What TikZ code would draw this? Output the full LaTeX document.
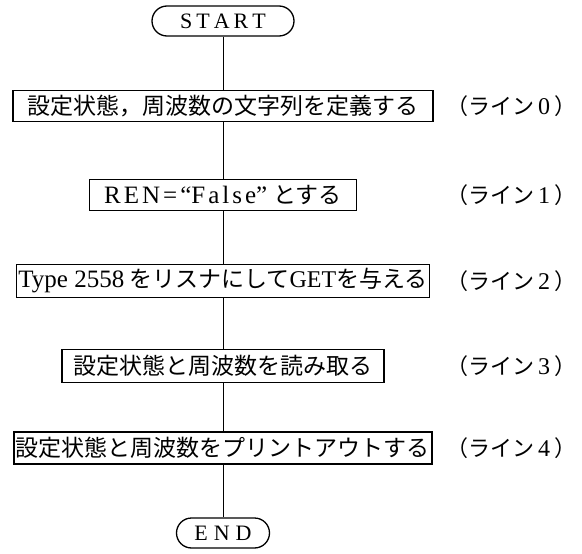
\documentclass[tikz,border=0pt]{standalone}
\usepackage{fontspec}
\setmainfont{Liberation Serif}
\newfontfamily\jp{Noto Sans CJK JP}
\newfontfamily\lat{Liberation Serif}
\newcommand\J[1]{{\fontsize{23}{23}\selectfont\jp #1}}
\newcommand\Dg[1]{{\lat\fontsize{24}{24}\selectfont\,#1\,}}
\newcommand\ls{\kern3pt}
\newcommand\gap[1]{\kern#1pt}
\begin{document}
\begin{tikzpicture}[x=1pt,y=-1pt,
  box/.style={draw,line width=1.3pt,inner sep=0pt,minimum height=31pt,
    font=\lat\fontsize{25}{25}\selectfont},
  term/.style={draw,line width=1.3pt,rounded corners=15pt,minimum height=30pt,
    inner sep=0pt,font=\lat\fontsize{22}{22}\selectfont},
  lab/.style={inner sep=0pt,font=\jp\fontsize{22}{22}\selectfont},
  flow/.style={line width=0.8pt}]
\useasboundingbox (0,0) rectangle (582,554);
\node[term,minimum width=142pt] (start) at (223,21) {S\gap4T\gap4A\gap4R\gap4T};
\node[box,minimum width=420pt] (b0) at (223,106) {\J{設定状態，周波数の文字列を定義する}};
\node[box,minimum width=267pt] (b1) at (223,195) {R\ls E\ls N\ls=\ls“F\ls a\ls l\ls s\ls e” \J{とする}};
\node[box,minimum width=413pt,minimum height=33pt] (b2) at (223,281) {Type 2558\gap5\J{をリスナにして}{\fontsize{24}{24}\selectfont GET}\J{を与える}};
\node[box,minimum width=322pt,minimum height=33pt] (b3) at (223,366) {\J{設定状態と周波数を読み取る}};
\node[box,minimum width=418pt,minimum height=32pt] (b4) at (223,448) {\J{設定状態と周波数をプリントアウトする}};
\node[term,minimum width=93pt] (end) at (223,533) {E\gap6N\gap6D};
\node[lab] (l0) at (511,106) {（ライン\Dg{0}）};
\node[lab] (l1) at (511,195) {（ライン\Dg{1}）};
\node[lab] (l2) at (511,281) {（ライン\Dg{2}）};
\node[lab] (l3) at (511,366) {（ライン\Dg{3}）};
\node[lab] (l4) at (511,448) {（ライン\Dg{4}）};
\draw[flow] (start) -- (b0);
\draw[flow] (b0) -- (b1);
\draw[flow] (b1) -- (b2);
\draw[flow] (b2) -- (b3);
\draw[flow] (b3) -- (b4);
\draw[flow] (b4) -- (end);
\end{tikzpicture}
\end{document}
